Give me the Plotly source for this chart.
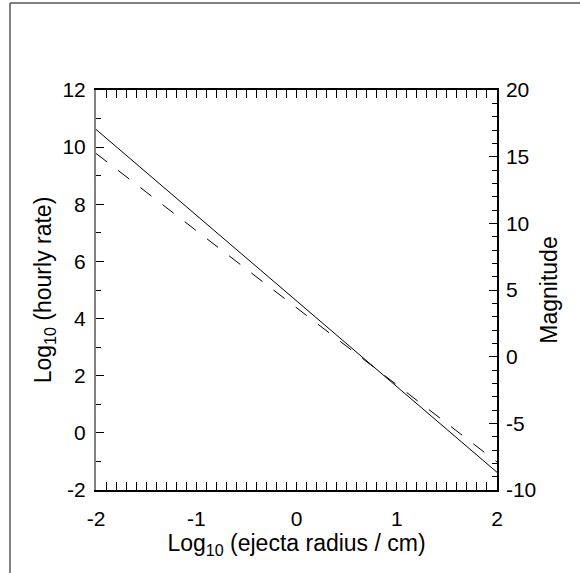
import plotly.graph_objects as go

# Data
log_radius = [-2, -1, 0, 1, 2]
log_rate_solid = [10.62, 7.62, 4.62, 1.62, -1.38]
log_rate_dashed = [9.78, 7.08, 4.38, 1.68, -1.02]

x_ticks = [-2, -1, 0, 1, 2]
y_ticks = [-2, 0, 2, 4, 6, 8, 10, 12]
mag_ticks = [-10, -5, 0, 5, 10, 15, 20]

W, H = 580, 573
L, R, T, B = 96, 83, 90, 83
pw, ph = W - L - R, H - T - B

FAM = "Liberation Sans, Arial, sans-serif"
font = dict(family=FAM, size=23, color="black")
tfont = dict(family=FAM, size=21, color="black")

fig = go.Figure()
fig.add_trace(go.Scatter(x=log_radius, y=log_rate_solid, mode="lines",
                         line=dict(color="black", width=1), showlegend=False))
fig.add_trace(go.Scatter(x=log_radius, y=log_rate_dashed, mode="lines",
                         line=dict(color="black", width=1, dash="14px,14px"),
                         showlegend=False))
# invisible trace to activate right axis
fig.add_trace(go.Scatter(x=[log_radius[0]], y=[mag_ticks[0]], yaxis="y2", mode="markers",
                         marker=dict(opacity=0), showlegend=False, hoverinfo="skip"))

fig.update_layout(
    width=W, height=H,
    margin=dict(l=L, r=R, t=T, b=B, pad=0),
    paper_bgcolor="white", plot_bgcolor="white",
    font=font,
    xaxis=dict(range=[-2, 2], tickvals=x_ticks, ticktext=[str(v) for v in x_ticks],
               tickfont=tfont,
               ticks="inside", ticklen=8, tickwidth=1, tickcolor="black",
               showline=True, linecolor="black", linewidth=1.5, mirror="allticks",
               showgrid=False, zeroline=False,
               minor=dict(dtick=0.1, tick0=0, ticks="inside", ticklen=4, tickcolor="black", showgrid=False),
               title=dict(text="Log<sub>10</sub> (ejecta radius / cm)", standoff=0, font=font),
               ticklabelstandoff=9),
    yaxis=dict(range=[-2, 12], tickvals=y_ticks, ticktext=[str(v) for v in y_ticks],
               tickfont=tfont,
               ticks="inside", ticklen=8, tickwidth=1, tickcolor="black",
               showline=True, linecolor="#808080", linewidth=2,
               showgrid=False, zeroline=False,
               minor=dict(dtick=1, tick0=0, ticks="inside", ticklen=5, tickcolor="black", showgrid=False),
               title=dict(text="Log<sub>10</sub> (hourly rate)", standoff=4, font=font),
               ticklabelstandoff=4),
    yaxis2=dict(range=[-10, 20], tickvals=mag_ticks, ticktext=[str(v) for v in mag_ticks],
                tickfont=tfont,
                overlaying="y", side="right", anchor="x",
                ticks="inside", ticklen=8, tickwidth=1, tickcolor="black",
                showline=True, linecolor="black", linewidth=1.5,
                showgrid=False, zeroline=False,
                minor=dict(dtick=1, tick0=0, ticks="inside", ticklen=5, tickcolor="black", showgrid=False),
                title=dict(text="Magnitude", standoff=6, font=font),
                ticklabelstandoff=3),
    shapes=[
        dict(type="line", xref="paper", yref="paper",
             x0=(10 - L) / pw, x1=(W - L) / pw,
             y0=(H - B - 3) / ph, y1=(H - B - 3) / ph,
             line=dict(color="#808080", width=2)),
        dict(type="line", xref="paper", yref="paper",
             x0=(10 - L) / pw, x1=(10 - L) / pw,
             y0=(H - B - 3) / ph, y1=(H - B - H) / ph,
             line=dict(color="#555555", width=1.5)),
    ],
)

fig.write_html("out.html", config={"displayModeBar": False},
               post_script="document.body.style.margin='0';document.body.style.padding='0';document.documentElement.style.overflow='hidden';")
